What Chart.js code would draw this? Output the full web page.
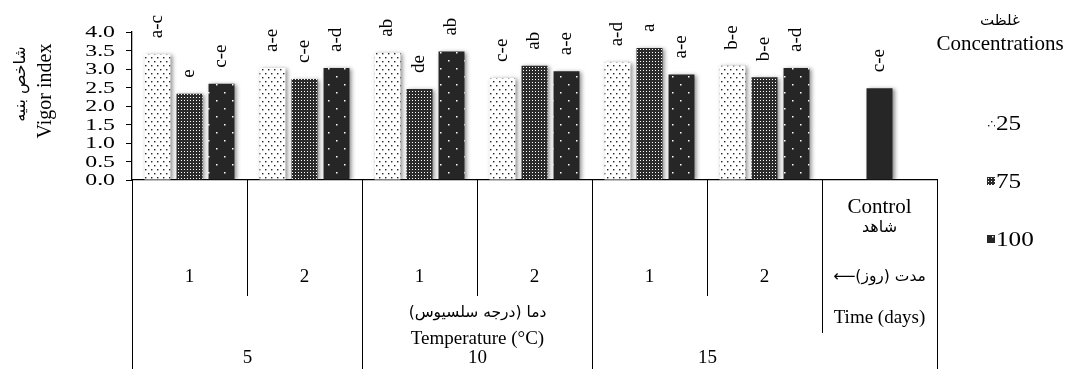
<!DOCTYPE html>
<html>
<head>
<meta charset="utf-8">
<script src="https://cdn.jsdelivr.net/npm/chart.js@4/dist/chart.umd.min.js"></script>
<style>
html,body{margin:0;padding:0;background:#fff;}
#wrap{width:1066px;height:369px;position:relative;}
</style>
</head>
<body>
<div id="wrap"><canvas id="c" width="1066" height="369"></canvas></div>
<script>
// ---- data ----
const categories = ['5 / 1', '5 / 2', '10 / 1', '10 / 2', '15 / 1', '15 / 2', 'Control'];
const dayLabels = ['1', '2', '1', '2', '1', '2'];
const tempLabels = ['5', '10', '15'];
const seriesNames = ['25', '75', '100'];
const conc25 = [3.40, 3.03, 3.44, 2.76, 3.18, 3.09, null];
const conc75 = [2.33, 2.73, 2.46, 3.09, 3.57, 2.78, null];
const conc100 = [2.60, 3.03, 3.47, 2.94, 2.85, 3.03, null];
const controlValues = [null, null, null, null, null, null, 2.48];
const letters25 = ['a-c', 'a-e', 'ab', 'c-e', 'a-d', 'b-e', ''];
const letters75 = ['e', 'c-e', 'de', 'ab', 'a', 'b-e', ''];
const letters100 = ['c-e', 'a-d', 'ab', 'a-e', 'a-e', 'a-d', ''];
const lettersControl = ['', '', '', '', '', '', 'c-e'];
const yTicks = [0, 0.5, 1, 1.5, 2, 2.5, 3, 3.5, 4];

// ---- styles ----
const SERIF = "'Liberation Serif', 'Times New Roman', serif";
const ARAB = "'DejaVu Sans', sans-serif";

function makePattern(w, h, bg, fg, dots, size) {
  const c = document.createElement('canvas');
  c.width = w; c.height = h;
  const g = c.getContext('2d');
  g.fillStyle = bg; g.fillRect(0, 0, w, h);
  g.fillStyle = fg;
  dots.forEach(d => g.fillRect(d[0], d[1], size, size));
  return g.createPattern(c, 'repeat');
}
const pat25 = makePattern(6, 8, '#ffffff', '#222222', [[1, 1], [4, 5]], 1.4);
const pat75 = makePattern(3, 3, '#2b2b2b', '#ffffff', [[1, 1]], 1);
const pat100 = makePattern(16, 16, '#262626', '#ffffff', [[8, 4], [0, 12]], 1.5);

function txt(ctx, s, x, y, o) {
  ctx.save();
  ctx.translate(x, y);
  if (o.rot) ctx.rotate(o.rot);
  if (o.sx) ctx.scale(o.sx, 1);
  ctx.font = (o.size || 16) + 'px ' + (o.family || SERIF);
  ctx.fillStyle = o.color || '#000';
  ctx.textAlign = o.align || 'center';
  ctx.textBaseline = o.baseline || 'middle';
  ctx.direction = o.dir || 'ltr';
  ctx.fillText(s, 0, 0);
  ctx.restore();
}

const shadowPlugin = {
  id: 'shadow',
  beforeDatasetsDraw(chart) {
    const c = chart.ctx;
    c.save();
    c.shadowColor = 'rgba(0,0,0,0.45)';
    c.shadowBlur = 4;
    c.shadowOffsetX = 2;
    c.shadowOffsetY = 1;
  },
  afterDatasetsDraw(chart) { chart.ctx.restore(); }
};

const decorPlugin = {
  id: 'decor',
  afterDraw(chart) {
    const c = chart.ctx;
    const xs = chart.scales.x, ys = chart.scales.y;
    const n = categories.length;
    const w = (xs.right - xs.left) / n;
    const bx = i => Math.round(xs.left + i * w) + 0.5;
    const base = ys.getPixelForValue(0);

    // y tick labels
    ys.ticks.forEach(t => {
      txt(c, t.value.toFixed(1), ys.left - 11, ys.getPixelForValue(t.value) + 1,
        { size: 17, align: 'right', sx: 1.4 });
    });

    // y axis title
    txt(c, 'Vigor index', 46, 91, { size: 20, rot: -Math.PI / 2 });
    txt(c, 'شاخص بنيه', 21, 84, { size: 16, family: ARAB, rot: -Math.PI / 2, dir: 'rtl' });

    // bar letters
    const letterSets = [letters25, letters75, letters100, lettersControl];
    letterSets.forEach((arr, di) => {
      const meta = chart.getDatasetMeta(di);
      meta.data.forEach((bar, i) => {
        if (!arr[i]) return;
        txt(c, arr[i], bar.x, bar.y - 16, { size: 19, rot: -Math.PI / 2, align: 'left' });
      });
    });

    // table lines
    c.save();
    c.strokeStyle = '#000';
    c.lineWidth = 1;
    const vline = (x, y0, y1) => { c.beginPath(); c.moveTo(x, y0); c.lineTo(x, y1); c.stroke(); };
    [1, 3, 5].forEach(i => vline(bx(i), base, 296));
    [0, 2, 4].forEach(i => vline(bx(i), base, 369));
    vline(bx(6), base, 333);
    vline(bx(7), base, 369);
    c.restore();

    // day labels
    dayLabels.forEach((d, i) => txt(c, d, xs.getPixelForValue(i), 277, { size: 19 }));
    // temperature labels
    tempLabels.forEach((t, k) => txt(c, t, bx(2 * k + 1), 358, { size: 19 }));
    // axis texts
    const midT = bx(3);
    txt(c, 'دما (درجه سلسیوس)', midT, 313, { size: 15.5, family: ARAB, dir: 'rtl' });
    txt(c, 'Temperature (°C)', midT, 339, { size: 19 });
    const cx = xs.getPixelForValue(6);
    txt(c, 'Control', cx, 207, { size: 21 });
    txt(c, 'شاهد', cx, 228, { size: 16, family: ARAB, dir: 'rtl' });
    txt(c, 'مدت (روز)⟵', cx, 277, { size: 15.5, family: ARAB, dir: 'rtl' });
    txt(c, 'Time (days)', cx, 318, { size: 19 });

    // legend
    txt(c, 'غلظت', 1000, 21, { size: 15, family: ARAB, dir: 'rtl' });
    txt(c, 'Concentrations', 1000, 44, { size: 21 });
    const pats = [pat25, pat75, pat100];
    const ly = [123, 181, 239];
    seriesNames.forEach((s, i) => {
      c.save();
      c.fillStyle = pats[i];
      c.fillRect(987, ly[i] - 4, 8, 8);
      c.restore();
      txt(c, s, 996, ly[i] + 1, { size: 21, align: 'left', sx: 1.2 });
    });
  }
};

const common = { skipNull: true, borderWidth: 0, categoryPercentage: 0.835, barPercentage: 0.81, maxBarThickness: 26 };

new Chart(document.getElementById('c'), {
  type: 'bar',
  data: {
    labels: categories,
    datasets: [
      Object.assign({ label: seriesNames[0], data: conc25, backgroundColor: pat25 }, common),
      Object.assign({ label: seriesNames[1], data: conc75, backgroundColor: pat75 }, common),
      Object.assign({ label: seriesNames[2], data: conc100, backgroundColor: pat100 }, common),
      Object.assign({ label: 'Control', data: controlValues, backgroundColor: '#262626' }, common)
    ]
  },
  options: {
    responsive: false,
    animation: false,
    events: [],
    layout: { padding: { left: 126, right: 129, top: 32, bottom: 181 } },
    plugins: { legend: { display: false }, tooltip: { enabled: false } },
    scales: {
      x: {
        grid: { display: false },
        ticks: { display: false },
        border: { display: true, color: '#000', width: 1.3 }
      },
      y: {
        min: 0, max: 4,
        afterBuildTicks(scale) { scale.ticks = yTicks.map(v => ({ value: v })); },
        ticks: { display: false },
        grid: { drawOnChartArea: false, drawTicks: true, tickLength: 6, color: '#000' },
        border: { display: true, color: '#000', width: 1.3 }
      }
    }
  },
  plugins: [shadowPlugin, decorPlugin]
});
</script>
</body>
</html>
